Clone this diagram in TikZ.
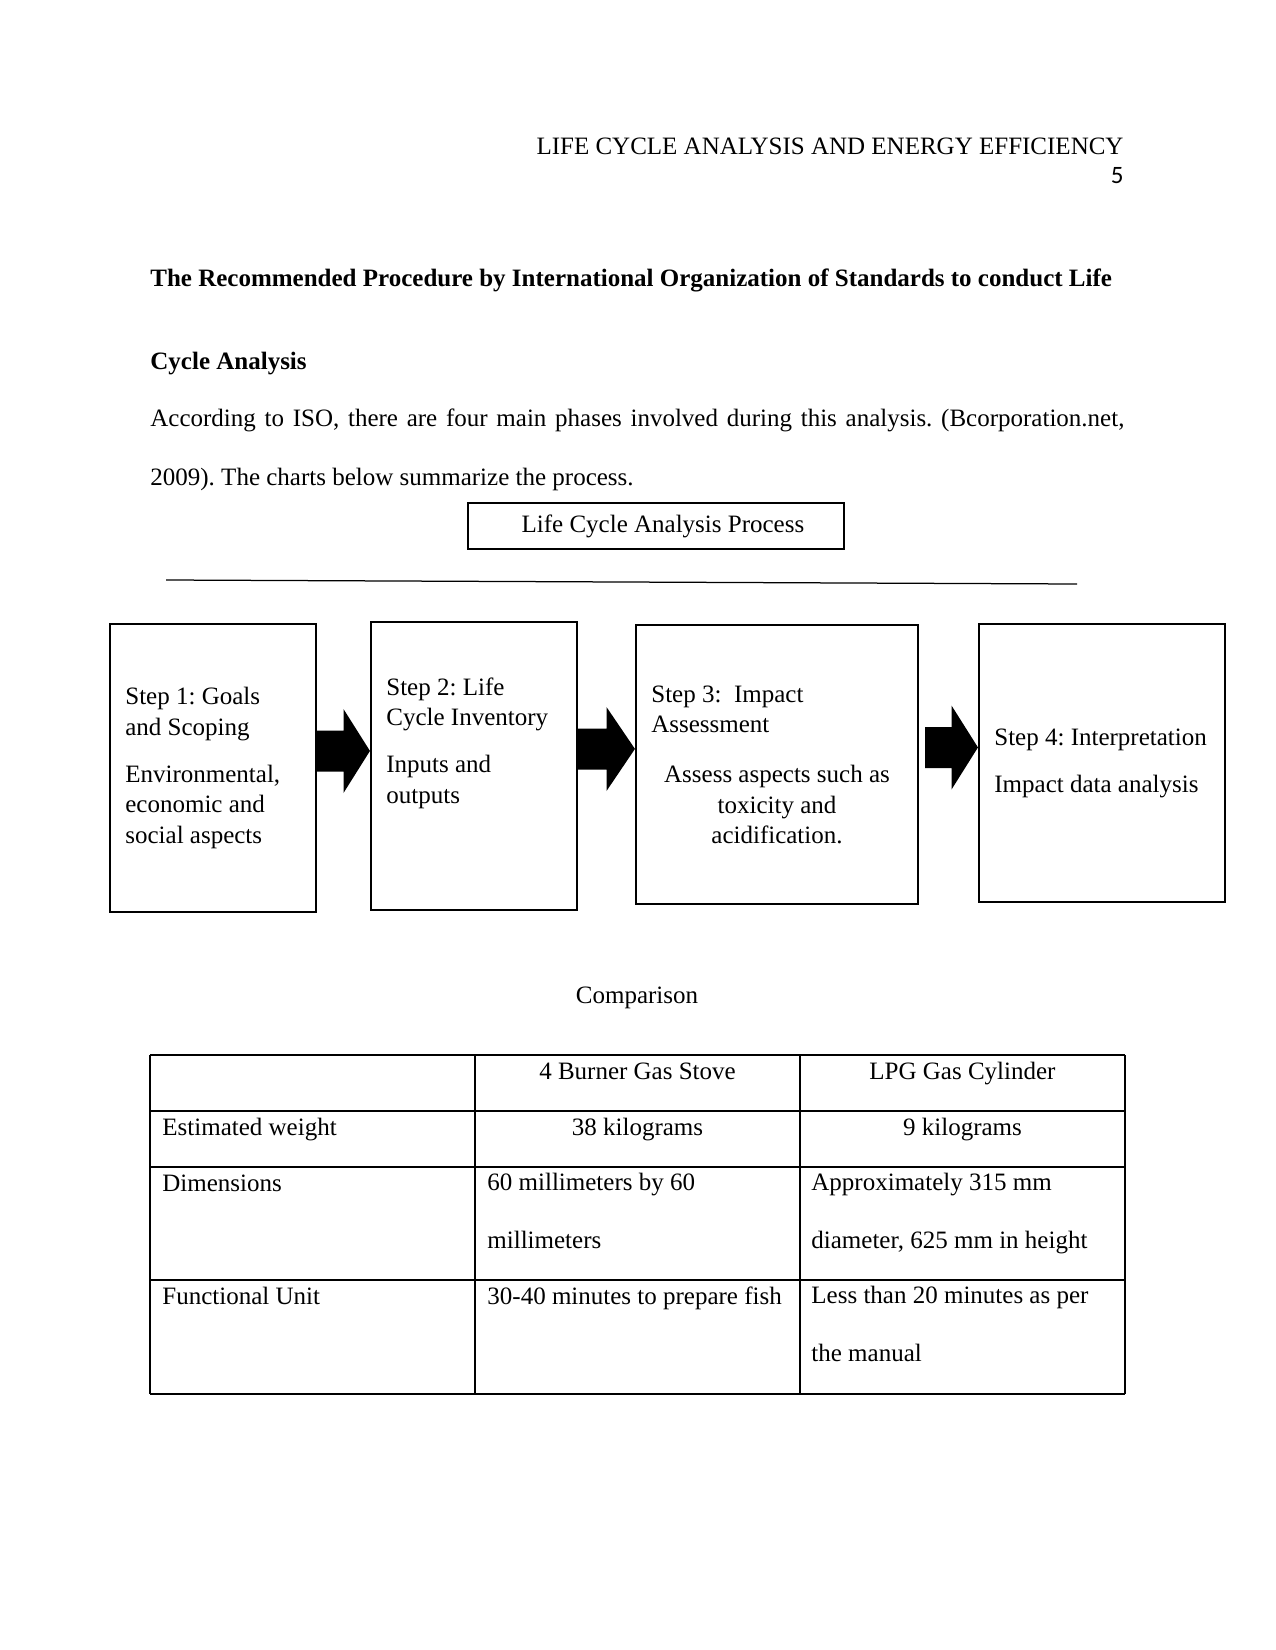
\documentclass[tikz,border=0pt]{standalone}
\usepackage{fontspec}
\setmainfont{Liberation Serif}
\newfontfamily\pagenofont{Carlito}
\usetikzlibrary{calc,positioning}

\newcommand{\bodyfont}{\fontsize{12pt}{14.6pt}\selectfont}
\frenchspacing

\begin{document}
\begin{tikzpicture}[x=0.48pt,y=-0.48pt,
  every node/.style={font=\bodyfont,inner sep=0pt},
  stepbox/.style={draw,line width=1pt},
  steptext/.style={anchor=west,align=left},
  cellwide/.style={anchor=base west,align=left,font=\fontsize{12pt}{27.4pt}\selectfont}]
  \useasboundingbox (0,0) rectangle (1275,1650);

  \node[anchor=base east] (hdr) at (1124,155) {LIFE CYCLE ANALYSIS AND ENERGY EFFICIENCY};
  \node[anchor=base east,font=\pagenofont\bodyfont] (pgno) at (1124,184) {5};

  \node[anchor=base west,font=\bodyfont\bfseries] (ttl1) at (150,287) {The Recommended Procedure by International Organization of Standards to conduct Life};
  \node[anchor=base west,font=\bodyfont\bfseries] (ttl2) at (150,370) {Cycle Analysis};
  \node[anchor=base west,text width=467.52pt,align=justify,font=\fontsize{12pt}{27.84pt}\selectfont] (para) at (150,427)
    {According to ISO, there are four main phases involved during this analysis. (Bcorporation.net,\linebreak 2009). The charts below summarize the process.};

  \node[stepbox,minimum width=180.48pt,minimum height=22.08pt] (lca) at (656,526) {\hspace*{6.7pt}Life Cycle Analysis Process};
  \coordinate (rulel) at (166,580);
  \coordinate (ruler) at (1077,584);
  \draw[line width=0.6pt] (rulel) -- (ruler);

  \node[stepbox,minimum width=98.88pt,minimum height=138.24pt] (s1) at (213,768) {};
  \node[stepbox,minimum width=98.88pt,minimum height=138.24pt] (s2) at (474,766) {};
  \node[stepbox,minimum width=135.36pt,minimum height=133.92pt] (s3) at (777,764.5) {};
  \node[stepbox,minimum width=118.08pt,minimum height=133.44pt] (s4) at (1102,763) {};

  \node[steptext] (t1) at ($(s1.west)+(16,0)$) {Step 1: Goals\\and Scoping\\[8pt]Environmental,\\economic and\\social aspects};
  \node[steptext] (t2) at ($(s2.west)+(16,-23)$) {Step 2: Life\\Cycle Inventory\\[8pt]Inputs and\\outputs};
  \node[steptext] (t3) at ($(s3.west)+(16,-55)$) {Step 3:\ \ Impact\\Assessment};
  \node[align=center] (t3b) at ($(s3.center)+(0,40)$) {Assess aspects such as\\toxicity and\\acidification.};
  \node[steptext] (t4) at ($(s4.west)+(16,0)$) {Step 4: Interpretation\\[8pt]Impact data analysis};

  \foreach \a/\b/\g in {s1/s2/0pt,s2/s3/0pt,s3/s4/2.9pt}
    \fill let \p1=(\a.east), \p2=(\b.west), \n1={(\x1+\g+\x2)/2} in
      (\x1+\g,\y1+18pt) -- (\n1,\y1+18pt) -- (\n1,\y1+28.3pt) -- (\x2,\y1+8.2pt)
      -- (\n1,\y1-12pt) -- (\n1,\y1-1.7pt) -- (\x1+\g,\y1-1.7pt) -- cycle;

  \node[anchor=base] (cmp) at (637,1003) {Comparison};

  \foreach \x in {150,475,800,1125}
    \draw[line width=0.6pt] (\x,1055) -- (\x,1394);
  \foreach \y in {1055,1111,1167,1280,1394}
    \draw[line width=0.6pt] (150,\y) -- (1125,\y);

  \node[anchor=base] (hstove) at (637.5,1079) {4 Burner Gas Stove};
  \node[anchor=base] (hcyl) at (962.5,1079) {LPG Gas Cylinder};
  \node[anchor=base west] (rweight) at (162,1135) {Estimated weight};
  \node[anchor=base] (wstove) at (637.5,1135) {38 kilograms};
  \node[anchor=base] (wcyl) at (962.5,1135) {9 kilograms};
  \node[anchor=base west] (rdim) at (162,1191) {Dimensions};
  \node[cellwide] (dstove) at (487,1248) {60 millimeters by 60\\millimeters};
  \node[cellwide] (dcyl) at (811,1248) {Approximately 315 mm\\diameter, 625 mm in height};
  \node[anchor=base west] (rfunc) at (162,1304) {Functional Unit};
  \node[anchor=base west] (fstove) at (487,1304) {30-40 minutes to prepare fish};
  \node[cellwide] (fcyl) at (811,1361) {Less than 20 minutes as per\\the manual};
\end{tikzpicture}
\end{document}
